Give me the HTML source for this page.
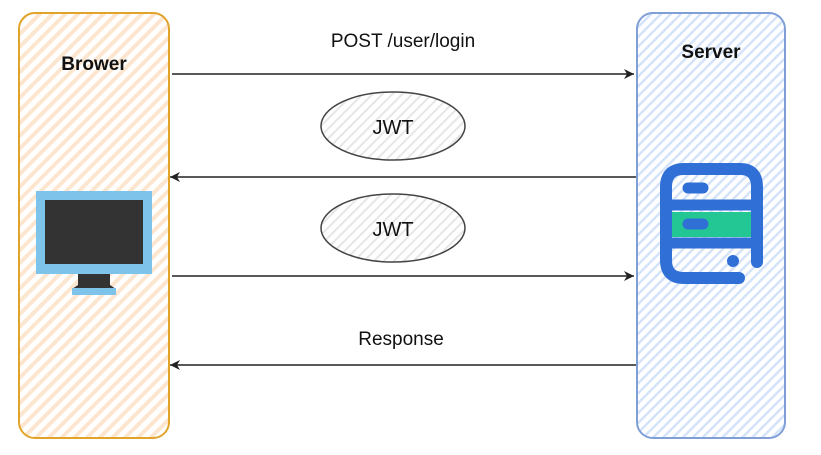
<!DOCTYPE html>
<html><head><meta charset="utf-8"><style>
html,body{margin:0;padding:0;background:#fff;}
svg{display:block;font-family:"Liberation Sans",Arial,sans-serif;}
</style></head><body>
<svg width="821" height="455" viewBox="0 0 821 455" xmlns="http://www.w3.org/2000/svg">
<defs>
<pattern id="ho" patternUnits="userSpaceOnUse" width="9" height="9" patternTransform="rotate(-45)">
<rect width="9" height="9" fill="#fff"/><rect width="9" height="4" fill="#fde6cf"/></pattern>
<pattern id="hb" patternUnits="userSpaceOnUse" width="7" height="7" patternTransform="rotate(-45)">
<rect width="7" height="7" fill="#fff"/><rect width="7" height="2.5" fill="#d4e3fa"/></pattern>
<pattern id="hg" patternUnits="userSpaceOnUse" width="7" height="7" patternTransform="rotate(-45)">
<rect width="7" height="7" fill="#fff"/><rect width="7" height="2" fill="#e6e6e6"/></pattern>
<marker id="ar" markerWidth="12" markerHeight="10" refX="10" refY="5" orient="auto" markerUnits="userSpaceOnUse">
<path d="M0,0 L10,5 L0,10 L3,5 Z" fill="#222"/></marker>
</defs>
<rect x="19" y="13" width="150" height="425" rx="16" fill="url(#ho)" stroke="#e0a42a" stroke-width="2"/>
<rect x="637" y="13" width="148" height="425" rx="16" fill="url(#hb)" stroke="#7f9fd6" stroke-width="2"/>
<text x="94" y="70" text-anchor="middle" font-size="19" font-weight="bold" fill="#111">Brower</text>
<text x="711" y="58" text-anchor="middle" font-size="19" font-weight="bold" fill="#111">Server</text>
<!-- monitor -->
<rect x="36" y="191" width="116" height="83" fill="#7ec4ea"/>
<rect x="45" y="200" width="98" height="64" fill="#333"/>
<path d="M78,274 L110,274 L110,285 L116,289 L72,289 L78,285 Z" fill="#333"/>
<rect x="72" y="288" width="44" height="7" fill="#7ec4ea"/>
<!-- server icon -->
<rect x="672" y="212" width="80" height="25" fill="#22c794"/>
<path d="M703,278 L684,278 Q666,278 666,260 L666,187 Q666,169 684,169 L740,169 Q757,169 757,187 L757,262" fill="none" stroke="#2f6fd6" stroke-width="12" stroke-linecap="round"/>
<line x1="667" y1="205" x2="756" y2="205" stroke="#2f6fd6" stroke-width="11"/>
<line x1="667" y1="243" x2="756" y2="243" stroke="#2f6fd6" stroke-width="11"/>
<line x1="703" y1="278" x2="739" y2="278" stroke="#2f6fd6" stroke-width="12" stroke-linecap="round"/>
<line x1="688" y1="188" x2="703" y2="188" stroke="#2f6fd6" stroke-width="11" stroke-linecap="round"/>
<line x1="688" y1="224" x2="703" y2="224" stroke="#2f6fd6" stroke-width="11" stroke-linecap="round"/>
<circle cx="733" cy="261" r="6" fill="#2f6fd6"/>
<!-- arrows -->
<line x1="172" y1="74" x2="634" y2="74" stroke="#222" stroke-width="1.6" marker-end="url(#ar)"/>
<line x1="636" y1="177" x2="170" y2="177" stroke="#222" stroke-width="1.6" marker-end="url(#ar)"/>
<line x1="172" y1="276" x2="634" y2="276" stroke="#222" stroke-width="1.6" marker-end="url(#ar)"/>
<line x1="636" y1="365" x2="170" y2="365" stroke="#222" stroke-width="1.6" marker-end="url(#ar)"/>
<text x="403" y="47" text-anchor="middle" font-size="19" fill="#111">POST /user/login</text>
<text x="401" y="345" text-anchor="middle" font-size="19" fill="#111">Response</text>
<ellipse cx="393" cy="126" rx="72" ry="34" fill="url(#hg)" stroke="#444" stroke-width="1.5"/>
<text x="393" y="134" text-anchor="middle" font-size="20" fill="#111">JWT</text>
<ellipse cx="393" cy="228" rx="72" ry="34" fill="url(#hg)" stroke="#444" stroke-width="1.5"/>
<text x="393" y="236" text-anchor="middle" font-size="20" fill="#111">JWT</text>
</svg>
</body></html>
